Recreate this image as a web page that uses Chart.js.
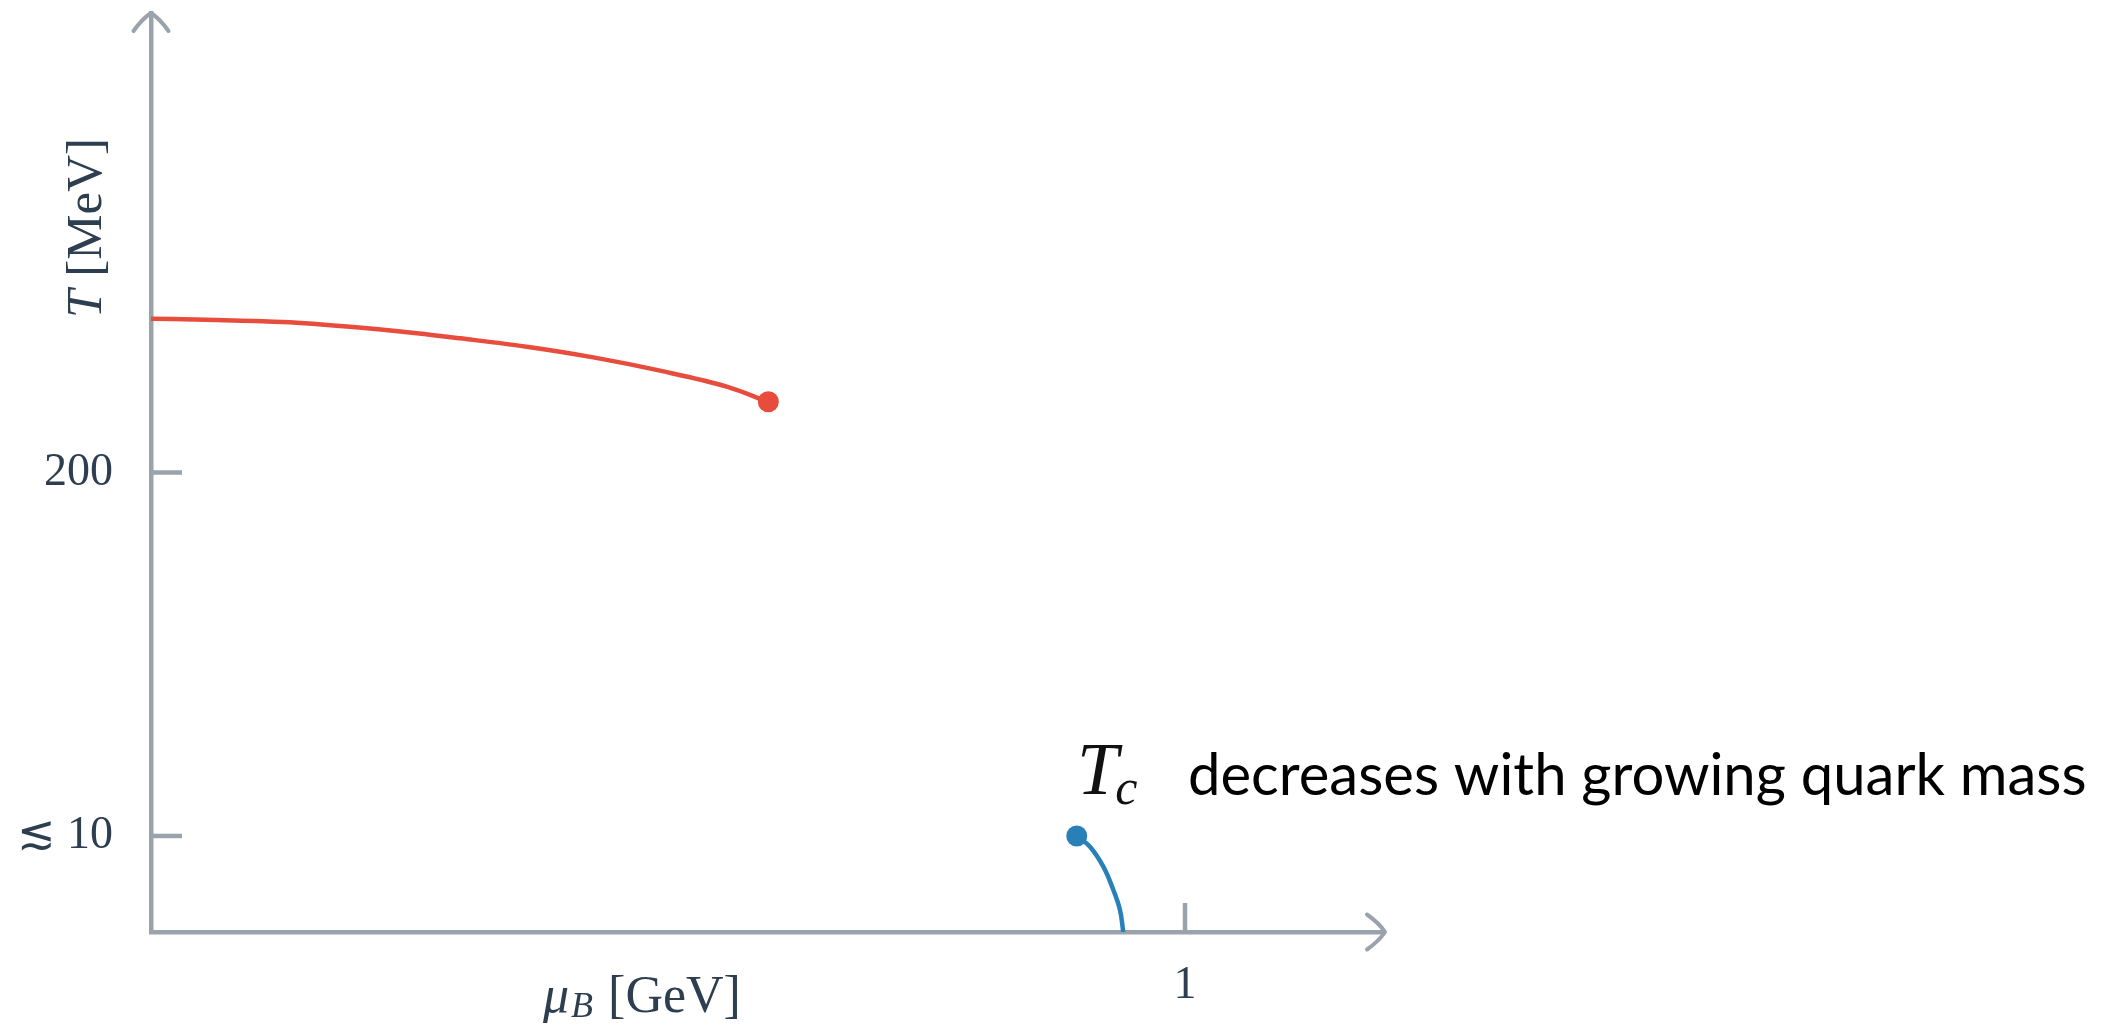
<!DOCTYPE html>
<html>
<head>
<meta charset="utf-8">
<script src="https://cdn.jsdelivr.net/npm/chart.js@4.4.0/dist/chart.umd.min.js"></script>
<style>
  html, body { margin: 0; padding: 0; background: #fff; }
  #wrap { width: 2119px; height: 1035px; }
</style>
</head>
<body>
<div id="wrap"><canvas id="myChart"></canvas></div>
<script>
// mu_B in GeV, T in schematic units (0 = x axis, 100 = top of the arrow)
let muRed = [0, 0.0635, 0.1277, 0.1925, 0.2570, 0.2988, 0.3633, 0.4278, 0.4923, 0.5568, 0.5970];
let tRed  = [66.74, 66.59, 66.38, 65.86, 65.15, 64.60, 63.69, 62.53, 61.08, 59.34, 57.70];

let muBlue = [0.8953, 0.9081, 0.9210, 0.9307, 0.9371, 0.9403];
let tBlue  = [10.45, 9.28, 7.11, 4.57, 2.39, 0];

let yTickValues = [10.45, 50];
let yTickLabels = ['≲ 10', '200'];
let xTickValues = [1];
let xTickLabels = ['1'];

let xMax = 1.1934;
let yMax = 100;

const grey = '#9aa3ab';
const ink = '#2c3e50';
const serif = '"Liberation Serif", "DejaVu Serif", serif';

function pts(xs, ys) {
    return xs.map((x, i) => ({ x: x, y: ys[i] }));
}

// only the end point of each line gets a dot
function lastDot(r) {
    return c => c.dataIndex === c.dataset.data.length - 1 ? r : 0;
}

let decorations = {
    id: 'decorations',
    beforeDatasetsDraw(chart) {
        const ctx = chart.ctx, a = chart.chartArea;
        const xs = chart.scales.x, ys = chart.scales.y;
        ctx.save();
        ctx.strokeStyle = grey;
        ctx.lineWidth = 4.5;
        ctx.lineCap = 'butt';
        // tick marks point into the plot
        yTickValues.forEach(v => {
            const p = ys.getPixelForValue(v);
            ctx.beginPath(); ctx.moveTo(a.left, p); ctx.lineTo(a.left + 31, p); ctx.stroke();
        });
        xTickValues.forEach(v => {
            const p = xs.getPixelForValue(v);
            ctx.beginPath(); ctx.moveTo(p, a.bottom); ctx.lineTo(p, a.bottom - 29); ctx.stroke();
        });
        // curved arrow heads
        ctx.lineCap = 'round';
        ctx.lineWidth = 4;
        let tx = a.left, ty = a.top;
        ctx.beginPath();
        ctx.moveTo(tx - 17.5, ty + 18); ctx.quadraticCurveTo(tx - 9, ty + 6, tx, ty);
        ctx.moveTo(tx + 17.5, ty + 18); ctx.quadraticCurveTo(tx + 9, ty + 6, tx, ty);
        ctx.stroke();
        tx = a.right; ty = a.bottom;
        ctx.beginPath();
        ctx.moveTo(tx - 18, ty - 17.5); ctx.quadraticCurveTo(tx - 6, ty - 9, tx, ty);
        ctx.moveTo(tx - 18, ty + 17.5); ctx.quadraticCurveTo(tx - 6, ty + 9, tx, ty);
        ctx.stroke();
        ctx.restore();
    },
    afterDraw(chart) {
        const ctx = chart.ctx;
        ctx.save();
        ctx.fillStyle = ink;
        ctx.textBaseline = 'alphabetic';
        ctx.textAlign = 'left';

        // y title, rotated
        ctx.save();
        ctx.translate(101, 228);
        ctx.rotate(-Math.PI / 2);
        ctx.font = 'italic 51px ' + serif;
        let w1 = ctx.measureText('T').width;
        ctx.font = '51px ' + serif;
        let w2 = ctx.measureText(' [MeV]').width;
        let x0 = -(w1 + w2) / 2;
        ctx.font = 'italic 51px ' + serif;
        ctx.fillText('T', x0, 0);
        ctx.font = '51px ' + serif;
        ctx.fillText(' [MeV]', x0 + w1, 0);
        ctx.restore();

        // x title
        let x = 543;
        ctx.font = 'italic 52px ' + serif;
        ctx.fillText('μ', x, 1012);
        x += ctx.measureText('μ').width + 2;
        ctx.font = 'italic 36px ' + serif;
        ctx.fillText('B', x, 1017);
        x += ctx.measureText('B').width + 2;
        ctx.font = '52px ' + serif;
        ctx.fillText(' [GeV]', x, 1012);

        // T_c annotation
        ctx.fillStyle = '#111';
        ctx.font = 'italic 74px ' + serif;
        ctx.fillText('T', 1077, 794);
        let tw = ctx.measureText('T').width;
        ctx.font = 'italic 50px ' + serif;
        ctx.fillText('c', 1077 + tw - 3, 804);

        ctx.fillStyle = '#000';
        ctx.font = '58px Lato, "Open Sans", sans-serif';
        ctx.fillText('decreases with growing quark mass', 1188, 795, 909);
        ctx.restore();
    }
};

let chart = new Chart(document.getElementById('myChart').getContext('2d'), {
    type: 'scatter',
    data: {
        datasets: [{
            data: pts(muRed, tRed),
            showLine: true,
            cubicInterpolationMode: 'monotone',
            borderColor: '#e74c3c',
            backgroundColor: '#e74c3c',
            borderWidth: 4.5,
            pointRadius: lastDot(10.5),
            pointHoverRadius: lastDot(10.5),
            pointBorderWidth: 0
        }, {
            data: pts(muBlue, tBlue),
            showLine: true,
            tension: 0.4,
            borderColor: '#2980b9',
            backgroundColor: '#2980b9',
            borderWidth: 4.5,
            pointRadius: 0,
            pointBorderWidth: 0
        }, {
            // dot at the top of the blue line
            data: pts(muBlue.slice(0, 1), tBlue.slice(0, 1)),
            backgroundColor: '#2980b9',
            pointRadius: 10.5,
            pointBorderWidth: 0
        }]
    },
    options: {
        responsive: true,
        maintainAspectRatio: false,
        animation: false,
        layout: { padding: { top: 13, right: 734, left: 0, bottom: 0 } },
        plugins: { legend: { display: false }, tooltip: { enabled: false } },
        scales: {
            x: {
                type: 'linear',
                min: 0,
                max: xMax,
                grid: { display: false, drawTicks: false },
                border: { display: true, color: grey, width: 4.5 },
                afterBuildTicks: s => { s.ticks = xTickValues.map(v => ({ value: v })); },
                afterFit: s => { s.height = 103; s.paddingLeft = 0; s.paddingRight = 0; },
                ticks: {
                    autoSkip: false,
                    maxRotation: 0,
                    padding: 26,
                    color: ink,
                    font: { family: serif, size: 46 },
                    callback: (v, i) => xTickLabels[i]
                }
            },
            y: {
                type: 'linear',
                min: 0,
                max: yMax,
                grid: { display: false, drawTicks: false },
                border: { display: true, color: grey, width: 4.5 },
                afterBuildTicks: s => { s.ticks = yTickValues.map(v => ({ value: v })); },
                afterFit: s => { s.width = 151; s.paddingTop = 0; s.paddingBottom = 0; },
                ticks: {
                    autoSkip: false,
                    padding: 38,
                    color: ink,
                    font: { family: serif, size: 46 },
                    callback: (v, i) => yTickLabels[i]
                }
            }
        }
    },
    plugins: [decorations]
});
</script>
</body>
</html>
